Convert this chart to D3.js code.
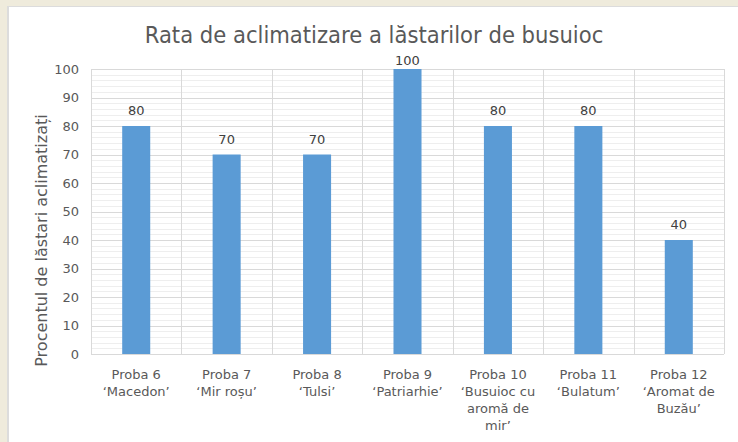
<!DOCTYPE html>
<html><head><meta charset="utf-8">
<script src="https://cdn.jsdelivr.net/npm/d3@7"></script>
<style>body{margin:0;background:#efebdc;}svg{display:block;}</style>
</head><body>
<svg id="c" width="738" height="442"></svg>
<script>
const categories = [
  ["Proba 6","‘Macedon’"],
  ["Proba 7","‘Mir roșu’"],
  ["Proba 8","‘Tulsi’"],
  ["Proba 9","‘Patriarhie’"],
  ["Proba 10","‘Busuioc cu","aromă de","mir’"],
  ["Proba 11","‘Bulatum’"],
  ["Proba 12","‘Aromat de","Buzău’"]
];
const values = [80, 70, 70, 100, 80, 80, 40];
const yTicks = [0,10,20,30,40,50,60,70,80,90,100];
const minorTicks = d3.range(0, 101, 2);
const title = "Rata de aclimatizare a lăstarilor de busuioc";
const yTitle = "Procentul de lăstari aclimatizați";

const svg = d3.select("#c");
const font = "'DejaVu Sans', Verdana, sans-serif";
const textCol = "#595959";

// background panel
svg.append("rect").attr("x",0).attr("y",0).attr("width",738).attr("height",442).attr("fill","#efebdc");
svg.append("rect").attr("x",7).attr("y",6).attr("width",731).attr("height",436).attr("fill","#dcdcdc");
svg.append("rect").attr("x",9).attr("y",7).attr("width",729).attr("height",435).attr("fill","#ffffff");

const m = {l:91, r:724, t:69, b:354};
const x = d3.scaleBand().domain(d3.range(categories.length)).range([m.l, m.r]).paddingInner(0.69).paddingOuter(0.345);
const xc = d3.scaleBand().domain(d3.range(categories.length)).range([m.l, m.r]);
const y = d3.scaleLinear().domain([0,100]).range([m.b, m.t]);

// minor gridlines
svg.append("g").selectAll("line").data(minorTicks.filter(d=>d%10!==0)).join("line")
  .attr("x1",m.l).attr("x2",m.r).attr("y1",d=>Math.round(y(d))+0.5).attr("y2",d=>Math.round(y(d))+0.5)
  .attr("stroke","#eeeeee").attr("stroke-width",1);
// major gridlines
svg.append("g").selectAll("line").data(yTicks).join("line")
  .attr("x1",m.l).attr("x2",m.r).attr("y1",d=>Math.round(y(d))+0.5).attr("y2",d=>Math.round(y(d))+0.5)
  .attr("stroke","#d9d9d9").attr("stroke-width",1);
// vertical gridlines
svg.append("g").selectAll("line").data(d3.range(categories.length+1)).join("line")
  .attr("x1",d=>Math.round(m.l + d*xc.bandwidth())+0.5).attr("x2",d=>Math.round(m.l + d*xc.bandwidth())+0.5)
  .attr("y1",m.t).attr("y2",m.b)
  .attr("stroke","#d9d9d9").attr("stroke-width",1);

// bars
svg.append("g").selectAll("rect").data(values).join("rect")
  .attr("x",(d,i)=>x(i)).attr("width",x.bandwidth())
  .attr("y",d=>y(d)).attr("height",d=>y(0)-y(d))
  .attr("fill","#5b9bd5");

// value labels
svg.append("g").selectAll("text").data(values).join("text")
  .attr("x",(d,i)=>x(i)+x.bandwidth()/2).attr("y",d=>Math.max(y(d)-11, 65))
  .attr("text-anchor","middle").attr("font-family",font).attr("font-size",13)
  .attr("fill","#404040").text(d=>d);

// y axis tick labels
const yAxis = d3.axisLeft(y).tickValues(yTicks).tickSize(0).tickPadding(12);
const gy = svg.append("g").attr("transform",`translate(${m.l},0)`).call(yAxis);
gy.select(".domain").remove();
gy.selectAll("text").attr("font-family",font).attr("font-size",13).attr("fill",textCol);

// x axis labels
const xAxis = d3.axisBottom(xc).tickSize(0).tickFormat(()=>"");
const gx = svg.append("g").attr("transform",`translate(0,${m.b})`).call(xAxis);
gx.select(".domain").remove();
gx.selectAll(".tick").each(function(d){
  const t = d3.select(this).append("text").attr("text-anchor","middle")
    .attr("font-family",font).attr("font-size",13).attr("fill",textCol);
  categories[d].forEach((line,j)=>{
    t.append("tspan").attr("x",0).attr("y",25 + j*17).text(line);
  });
});

// title
svg.append("text").attr("x",374).attr("y",43).attr("text-anchor","middle")
  .attr("font-family","'DejaVu Sans Condensed', 'DejaVu Sans', sans-serif").attr("font-size",23.5)
  .attr("fill",textCol).text(title);

// y title
svg.append("text").attr("transform",`translate(47,${(m.t+m.b)/2+29}) rotate(-90)`)
  .attr("text-anchor","middle").attr("font-family",font).attr("font-size",16)
  .attr("fill",textCol).text(yTitle);
</script>
</body></html>
